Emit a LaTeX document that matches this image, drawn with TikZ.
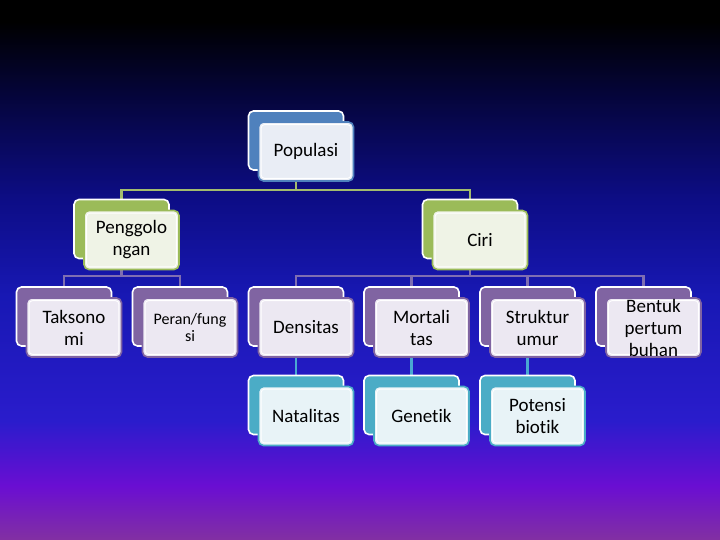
\documentclass[tikz,border=0pt]{standalone}
\usepackage{fontspec}
\setmainfont{Carlito}[Ligatures=NoCommon]
\usetikzlibrary{backgrounds}
\definecolor{bgT}{HTML}{000000}
\definecolor{bgA}{HTML}{05053C}
\definecolor{bgB}{HTML}{0D0D86}
\definecolor{bgC}{HTML}{1818B4}
\definecolor{bgD}{HTML}{2A1CCC}
\definecolor{bgE}{HTML}{6A0ED2}
\definecolor{bgF}{HTML}{8230A2}
\definecolor{cblue}{HTML}{4F81BD}
\definecolor{lblue}{HTML}{E9EDF5}
\definecolor{cgreen}{HTML}{9BBB59}
\definecolor{lgreen}{HTML}{EFF3E6}
\definecolor{cpurple}{HTML}{8064A2}
\definecolor{lpurple}{HTML}{ECE8F2}
\definecolor{cteal}{HTML}{4BACC6}
\definecolor{lteal}{HTML}{E8F3F7}
\definecolor{lngreen}{HTML}{A2BC6E}
\definecolor{lnpurple}{HTML}{7F6EB2}
\definecolor{lnteal}{HTML}{4AA8D2}
\pgfdeclareverticalshading{bgshade}{100bp}{color(0bp)=(bgF); color(25bp)=(bgF); color(30bp)=(bgE); color(36bp)=(bgD); color(47.5bp)=(bgC); color(56.5bp)=(bgB); color(66bp)=(bgA); color(73bp)=(bgT); color(100bp)=(bgT)}
\newcommand\dbox[7][]{%
  \node[backbox, fill=#5] (#2B) at (#3,#4) {};
  \node[frontbox, draw=#5, fill=#6, #1] (#2) at (#3+10,#4+11) {#7};
}
\begin{document}
\begin{tikzpicture}[x=1pt,y=-1pt,
  backbox/.style={draw=white, line width=1.6pt, rounded corners=5pt, minimum width=95pt, minimum height=59pt, inner sep=0pt},
  frontbox/.style={line width=1.6pt, rounded corners=5pt, minimum width=95pt, minimum height=59pt, inner sep=0pt, align=center, text=black, font=\fontsize{19}{22}\selectfont,
    path picture={\draw[white, line width=0.9pt, rounded corners=3.5pt]
      ([shift={(2.6pt,2.6pt)}]path picture bounding box.south west) rectangle
      ([shift={(-2.6pt,-2.6pt)}]path picture bounding box.north east);}},
  small/.style={font=\fontsize{16}{17.5}\selectfont},
  link/.style={line width=2.2pt}]
\useasboundingbox (0,0) rectangle (720,540);
\dbox{pop}{296}{140.5}{cblue}{lblue}{Populasi}
\dbox{peng}{121.5}{229}{cgreen}{lgreen}{Penggolo\\ngan}
\dbox{ciri}{470}{229}{cgreen}{lgreen}{Ciri}
\dbox{tak}{64}{316.5}{cpurple}{lpurple}{Taksono\\mi}
\dbox[small]{per}{180}{316.5}{cpurple}{lpurple}{Peran/fung\\si}
\dbox{den}{296}{316.5}{cpurple}{lpurple}{Densitas}
\dbox{mor}{411.5}{316.5}{cpurple}{lpurple}{Mortali\\tas}
\dbox{str}{527.5}{316.5}{cpurple}{lpurple}{Struktur\\umur}
\dbox{ben}{643.5}{316.5}{cpurple}{lpurple}{Bentuk\\pertum\\buhan}
\dbox{nat}{296}{405}{cteal}{lteal}{Natalitas}
\dbox{gen}{411.5}{405}{cteal}{lteal}{Genetik}
\dbox{pot}{527.5}{405}{cteal}{lteal}{Potensi\\biotik}
\coordinate (j1) at (296,190);
\coordinate (j2) at (121.5,276);
\coordinate (j3) at (470,276);
\begin{pgfonlayer}{background}
  \shade[shading=bgshade] (0,0) rectangle (720,540);
  \draw[link, lngreen] (popB.center) -- (j1) -| (pengB.center);
  \draw[link, lngreen] (j1) -| (ciriB.center);
  \draw[link, lnpurple] (pengB.center) -- (j2) -| (takB.center);
  \draw[link, lnpurple] (j2) -| (perB.center);
  \draw[link, lnpurple] (ciriB.center) -- (j3) -| (denB.center);
  \draw[link, lnpurple] (j3) -| (morB.center);
  \draw[link, lnpurple] (j3) -| (strB.center);
  \draw[link, lnpurple] (j3) -| (benB.center);
  \draw[link, lnteal] (denB.center) -- (natB.center);
  \draw[link, lnteal] (morB.center) -- (genB.center);
  \draw[link, lnteal] (strB.center) -- (potB.center);
\end{pgfonlayer}
\end{tikzpicture}
\end{document}
